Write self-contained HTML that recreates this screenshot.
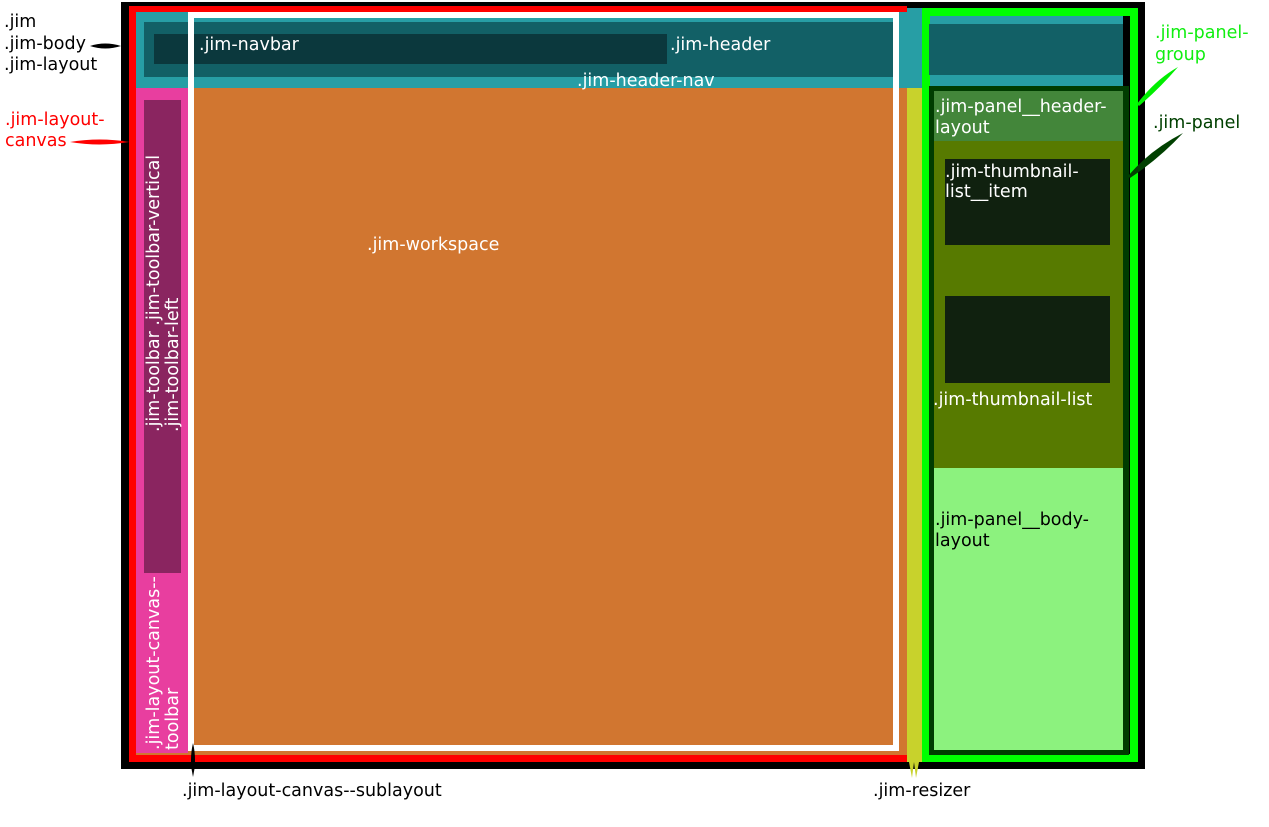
<!DOCTYPE html>
<html><head><meta charset="utf-8"><style>
html,body{margin:0;padding:0;background:#fff}
svg{display:block}
text{font-family:"DejaVu Sans","Liberation Sans",sans-serif;font-size:17.5px}
</style></head><body>
<svg width="1269" height="827" viewBox="0 0 1269 827">
<rect x="121" y="2" width="1024" height="767" fill="#000"/>
<rect x="129" y="6" width="778" height="756" fill="#ff0000"/>
<rect x="136" y="12" width="771" height="743" fill="#d17630"/>
<rect x="136" y="12" width="987" height="76" fill="#279ea5"/>
<rect x="907" y="8" width="216" height="80" fill="#279ea5"/>
<rect x="144" y="22" width="753" height="55" fill="#126066"/>
<rect x="154" y="34" width="513" height="30" fill="#0b383d"/>
<rect x="136" y="88" width="52" height="665" fill="#e83e9f"/>
<rect x="144" y="100" width="37" height="473" fill="#8a2560"/>
<rect x="191" y="15" width="705" height="733" fill="none" stroke="#fff" stroke-width="6"/>
<rect x="907" y="88" width="15" height="674" fill="#c8d22c"/>
<path d="M909 762 L912 778 L914 762 L916 778 L919 762 Z" fill="#c8d22c"/>
<rect x="926" y="12" width="208" height="746" fill="none" stroke="#00ff00" stroke-width="8"/>
<rect x="929" y="24" width="194" height="51" fill="#126066"/>
<rect x="929" y="86" width="200" height="669" fill="#003c00"/>
<rect x="934" y="91" width="189" height="50" fill="#43863a"/>
<rect x="934" y="141" width="189" height="327" fill="#577a00"/>
<rect x="934" y="468" width="189" height="282" fill="#8cf27e"/>
<rect x="945" y="159" width="165" height="86" fill="#10210f"/>
<rect x="945" y="296" width="165" height="87" fill="#10210f"/>
<path d="M90 46 Q105 41 121 46 Q105 51 90 46 Z" fill="#000"/>
<path d="M70 142 Q100 137 129 142 Q100 147 70 142 Z" fill="#ff0000"/>
<path d="M1137 104 Q1155 80 1178 67 Q1160 88 1139 106 Z" fill="#00ee00"/>
<path d="M1128 176 Q1150 150 1183 133 Q1160 158 1130 178 Z" fill="#004000"/>
<path d="M193 743 Q189 760 193 777 Q197 760 193 743 Z" fill="#000"/>
<g fill="#000">
<text x="4" y="27">.jim</text>
<text x="4" y="49">.jim-body</text>
<text x="4" y="70">.jim-layout</text>
<text x="182" y="796">.jim-layout-canvas--sublayout</text>
<text x="873" y="796">.jim-resizer</text>
<text x="935" y="525">.jim-panel__body-</text>
<text x="935" y="546">layout</text>
</g>
<text x="5" y="125" fill="#ff0000">.jim-layout-</text>
<text x="5" y="146" fill="#ff0000">canvas</text>
<text x="1155" y="38" fill="#11ee11">.jim-panel-</text>
<text x="1155" y="60" fill="#11ee11">group</text>
<text x="1153" y="128" fill="#004000">.jim-panel</text>
<g fill="#fff">
<text x="199" y="50">.jim-navbar</text>
<text x="670" y="50">.jim-header</text>
<text x="577" y="86">.jim-header-nav</text>
<text x="367" y="250">.jim-workspace</text>
<text x="935" y="112">.jim-panel__header-</text>
<text x="935" y="133">layout</text>
<text x="945" y="177">.jim-thumbnail-</text>
<text x="945" y="197">list__item</text>
<text x="933" y="405">.jim-thumbnail-list</text>
<text transform="translate(159,432) rotate(-90)">.jim-toolbar .jim-toolbar-vertical</text>
<text transform="translate(178,432) rotate(-90)">.jim-toolbar-left</text>
<text transform="translate(159,750) rotate(-90)">.jim-layout-canvas--</text>
<text transform="translate(178,750) rotate(-90)">toolbar</text>
</g>
</svg>
</body></html>
